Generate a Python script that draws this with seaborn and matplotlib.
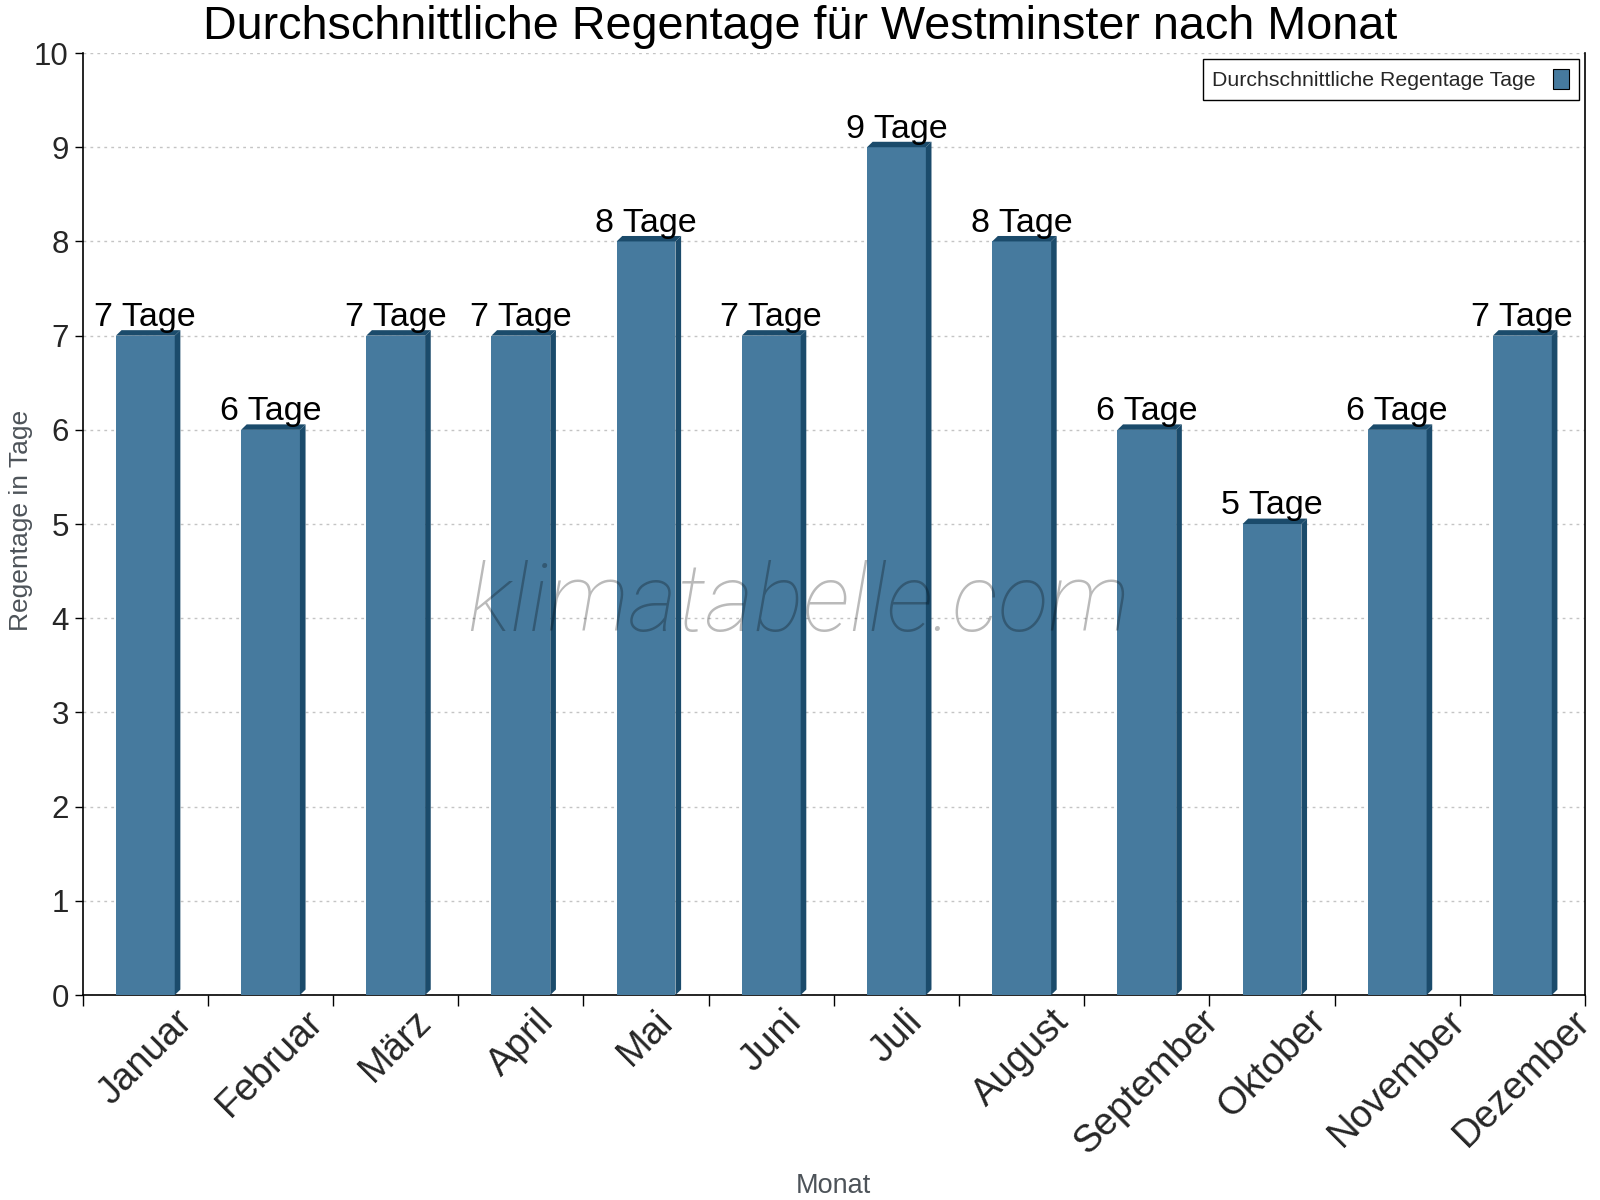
import numpy as np
import pandas as pd
import matplotlib
matplotlib.use("Agg")
import matplotlib.pyplot as plt
from matplotlib.patches import Polygon, Patch
import seaborn as sns

months = ["Januar", "Februar", "März", "April", "Mai", "Juni", "Juli",
          "August", "September", "Oktober", "November", "Dezember"]
rain_days = [7, 6, 7, 7, 8, 7, 9, 8, 6, 5, 6, 7]
y_ticks = [0, 1, 2, 3, 4, 5, 6, 7, 8, 9, 10]
title = "Durchschnittliche Regentage für Westminster nach Monat"
legend_label = "Durchschnittliche Regentage Tage"
unit = "Tage"

FRONT = "#467a9e"
DARK = "#1b4b6b"
LABEL_GRAY = "#4d5359"

sns.set_theme(style="white")
plt.rcParams["font.family"] = ["Liberation Sans", "DejaVu Sans"]

df = pd.DataFrame({"Monat": months, "Regentage": rain_days})

fig = plt.figure(figsize=(16, 12), dpi=100)
ax = fig.add_axes([0.0517, 0.1708, 0.9389, 0.785])

sns.barplot(data=df, x="Monat", y="Regentage", color=FRONT, saturation=1,
            width=0.47, ax=ax, zorder=3, linewidth=0)

ax.set_ylim(0, 10)
ax.set_xlim(-0.5, len(months) - 0.5)

# pseudo-3D depth
dx = 0.045
dy = 0.058
bars = list(ax.patches)
for b in bars:
    x0 = b.get_x()
    x1 = x0 + b.get_width()
    h = b.get_height()
    side = Polygon([(x1, 0), (x1 + dx, dy), (x1 + dx, h + dy), (x1, h)],
                   closed=True, facecolor=DARK, edgecolor="none", zorder=3)
    top = Polygon([(x0, h), (x0 + dx, h + dy), (x1 + dx, h + dy), (x1, h)],
                  closed=True, facecolor=DARK, edgecolor="none", zorder=3)
    ax.add_patch(side)
    ax.add_patch(top)
    ax.annotate(f"{int(h)} {unit}", (b.get_x() + b.get_width() / 2, h),
                xytext=(0, 7), textcoords="offset points",
                ha="center", va="baseline", fontsize=24.5, color="black",
                zorder=5)

# grid
ax.set_yticks(y_ticks)
ax.yaxis.grid(True, linestyle=(0, (2, 3)), color="#c4c4c4", linewidth=1, zorder=0)
ax.xaxis.grid(False)
ax.set_axisbelow(True)

# x ticks: major at boundaries, labels at centers
ax.set_xticks(np.arange(len(months) + 1) - 0.5)
ax.set_xticklabels([""] * (len(months) + 1))
ax.set_xticks(np.arange(len(months)), minor=True)
ax.set_xticklabels(months, minor=True, rotation=45, ha="center", fontsize=27.5)
ax.tick_params(axis="x", which="major", length=8, width=1, color="black",
               direction="out", bottom=True)
ax.tick_params(axis="x", which="minor", length=0, pad=6, bottom=True)
ax.tick_params(axis="y", length=6, width=1, color="black", direction="out",
               labelsize=22.5, left=True, pad=4)

for s in ["left", "bottom", "right"]:
    ax.spines[s].set_visible(True)
    ax.spines[s].set_color("black")
    ax.spines[s].set_linewidth(1.2)
ax.spines["top"].set_visible(False)

ax.set_xlabel("")
ax.set_ylabel("")
fig.text(0.013, 0.566, "Regentage in Tage", rotation=90, ha="center",
         va="center", fontsize=19, color=LABEL_GRAY)
fig.text(0.521, 0.012, "Monat", ha="center", va="center", fontsize=19.5,
         color=LABEL_GRAY)

fig.text(0.5, 0.9675, title, ha="center", va="baseline", fontsize=33.7,
         color="black")

# watermark
fig.text(0.499, 0.496, "klimatabelle.com",
         ha="center", va="center", fontsize=67.5, style="italic",
         fontweight="light", family=["Roboto", "DejaVu Sans"],
         color="black", alpha=0.27, zorder=6)

handle = Patch(facecolor=FRONT, edgecolor="black", linewidth=0.8)
leg = ax.legend([handle], [legend_label], loc="upper right",
                markerfirst=False, fontsize=15.3, frameon=True, fancybox=False,
                edgecolor="black", framealpha=1, handlelength=0.75,
                handleheight=1.1, borderaxespad=0.3, borderpad=0.45,
                handletextpad=0.8)
leg.get_frame().set_linewidth(1.0)

fig.savefig("out.png", dpi=100)
